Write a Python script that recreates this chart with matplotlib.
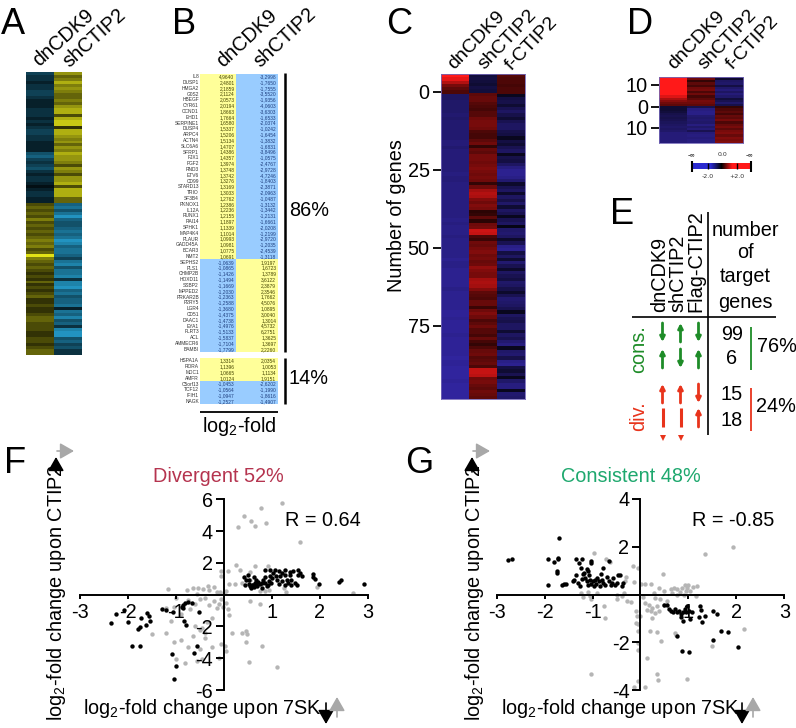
import matplotlib
matplotlib.use('Agg')
import matplotlib.pyplot as plt, numpy as np
from matplotlib.colors import LinearSegmentedColormap

plt.rcParams['font.family'] = ['Liberation Sans', 'DejaVu Sans']
plt.rcParams['mathtext.fontset'] = 'custom'
plt.rcParams['mathtext.rm'] = 'Liberation Sans'
plt.rcParams['mathtext.default'] = 'regular'

W, H = 796, 728
FS = 14.3

# panel A, two columns, row brightness (-10 teal .. 10 yellow)
a_left = [-4,-3,-3,-2,-3,-3,-4,-4,-3,-2,-2,-2,-3,-3,-3,-2,-3,-2,-3,-4,-4,-3,-3,-2,-2,-2,-2,-5,-6,-4,-3,-4,-5,-3,-2,-3,-3,-2,-1,-2,-3,-3,-2,-2,
          3,4,3,4,3,5,3,4,3,4,3,4,5,4,5,3,4,9,5,4,3,4,3,2,3,2,4,2,3,2,3,4,2,2,3,2,2,3,4,4,3,3,3,2,2,3,3,2,3,4,4]
a_right = [6,4,5,7,5,6,5,4,4,5,4,6,7,7,3,7,8,8,2,7,7,6,5,6,4,6,5,7,6,6,5,3,6,5,3,6,6,7,3,7,7,7,4,4,
           -6,-7,-5,-7,-9,-6,-5,-5,-6,-7,-6,-7,-9,-8,-6,-7,-7,-6,-4,-7,-8,-5,-7,-7,-8,-3,-8,-8,-9,-6,-7,-5,-6,-6,-7,-2,-7,-6,-8,-5,-6,-3,-8,-9,-9,-5,-6,-4,-5,-3,-3]

# panel B, gene table
genes = ['IL8','DUSP1','HMGA2','G0S2','HBEGF','CYR61','CCND1','EHD1','SERPINE1','DUSP4','ARPC4','ACTN4','SLC6A6','SFRP1','FJX1','FGF2',
         'RND3','ETV6','CD99','STARD13','TRIO','SF3B4','PKNOX1','IL12A','RUNX1','RAI14','SPHK1','MAP4K4','PLAUR','GADD45A','BCAR3','NMT2',
         'SEPHS2','PLS1','CHMP2B','HOXD11','SSBP2','MPPED2','PRKAR2B','P2RY5','LGR4','CD51','DAAC1','EYA1','FLRT3','ACL','AMMECR6','BAMBI',
         'HSPA1A','RORA','MDC1','AMFR','C5orf13','TCF12','IFIH1','NAGK']
b_dn = [4.9640,2.4801,2.1859,2.1124,2.0573,2.0194,1.8663,1.7664,1.6580,1.5337,1.5206,1.5134,1.4707,1.4386,1.4357,1.3974,
        1.3748,1.3742,1.3276,1.3169,1.3033,1.2762,1.2386,1.2236,1.2155,1.1897,1.1339,1.1014,1.0993,1.0981,1.0775,1.0691,
        -1.0639,-1.0865,-1.1426,-1.1494,-1.1669,-1.2030,-1.2363,-1.2588,-1.3680,-1.4375,-1.4738,-1.4976,-1.5133,-1.5837,-1.7104,-1.7799,
        1.3314,1.1396,1.0665,1.0124,-1.0453,-1.0564,-1.0947,-1.2527]
b_sh = [-3.2998,-1.7650,-1.7555,-3.5520,-1.9356,-4.0603,-3.6303,-1.6533,-2.0374,-1.0242,-1.6454,-1.3832,-1.6831,-3.8496,-1.0575,-2.4767,
        -2.9728,-4.7246,-1.8403,-2.3871,-2.0963,-1.0487,-1.3132,-1.3442,-1.2131,-1.6661,-2.0208,-1.2199,-2.9720,-1.2035,-2.4539,-1.3118,
        1.9197,1.6723,1.3789,3.6122,2.3879,2.3546,1.7662,4.5076,1.0895,3.0040,1.3014,4.5732,6.2751,1.3625,1.3697,2.2260,
        2.0354,1.0053,1.1134,1.9151,-2.6202,-1.1990,-1.8616,-1.4907]
b_rows = list(range(48)) + list(range(49, 57))

# panel C, 6 + 99 rows, log2 values in tenths
c_dn = [30,27,21,14,11,9,
        -13,-13,-14,-14,-14,-14,-15,-14,-15,-15,-15,-15,-15,-15,-16,-16,-15,-16,-16,-16,-16,-16,-16,-16,-17,-16,-16,-17,-17,-17,-17,-17,-17,-17,
        -17,-17,-17,-17,-18,-17,-18,-18,-18,-17,-18,-18,-18,-18,-18,-18,-19,-18,-18,-19,-19,-19,-19,-19,-19,-18,-19,-19,-19,-19,-19,-19,-20,-20,
        -19,-20,-20,-20,-20,-19,-20,-20,-20,-20,-20,-20,-21,-20,-20,-21,-21,-21,-21,-20,-21,-21,-21,-21,-21]
c_sh = [-8,-9,-8,-7,-9,-8,
        11,12,12,10,9,8,10,10,13,14,
        14,13,9,8,8,11,13,6,12,11,
        14,14,13,14,15,14,13,14,13,6,
        13,19,21,20,15,13,15,14,5,6,
        11,5,13,14,24,23,9,7,13,12,
        14,15,13,14,12,13,17,15,14,14,
        19,20,19,15,11,10,9,12,12,7,
        13,15,13,9,11,13,10,10,8,12,
        8,6,9,12,13,10,11,12,9,23,
        23,22,13,14,12,11,13,12,11]
c_f = [10,9,9,8,9,9,
       -4,-9,-10,-7,-11,-13,-10,-7,-11,-13,-13,-10,-9,-4,-9,-7,-11,-13,-4,-10,-9,-13,-17,-19,-19,-18,-15,-6,-11,-13,-6,-13,-10,-14,-7,-13,-11,-4,-11,-13,-3,-14,-15,-13,-6,-11,-18,-19,-9,
       -13,-7,-15,-11,-6,-13,-11,-9,-14,-13,-10,-6,-11,-15,-14,-13,-11,-4,-13,-11,-10,-13,-13,-7,-13,-11,-15,-17,-4,-14,-15,-10,-18,-19,-9,-7,-11,-4,-14,-17,-17,-4,-15,-14]
c_ticks = [0, 25, 50, 75]

# panel D, 14 + 17 rows
d_dn = [30,30,30,30,30,30,30,30,30,26,20,16,13,11,
        -7,-7,-8,-10,-11,-10,-11,-12,-13,-14,-13,-14,-16,-16,-16,-16,-16]
d_sh = [11,13,6,11,8,13,14,9,13,8,11,14,13,11,
        -10,-17,-18,-18,-15,-14,-15,-14,-17,-14,-16,-11,-16,-17,-16,-17,-17]
d_f = [-11,-6,-13,-14,-9,-14,-16,-13,-16,-14,-8,-11,-14,-10,
       6,9,11,8,12,11,14,9,12,14,11,14,15,12,15,14,15]
d_ticks = [-10, 0, 9.5]
d_ticklabels = ['10', '0', '10']
cbar_vals = [-2,-2,-2,-2,-1,0,1,2,2,2,2]

# panel E
e_counts = ['99', '6', '15', '18']

# panel F
f_black = [(-2.35,-1.8),(-2.25,-1.2),(-2.09,-0.95),(-2.0,-1.75),(-1.92,-3.2),(-1.75,-3.2),(-1.8,-2.15),(-1.75,-2.05),(-1.72,-1.45),(-1.63,-1.9),
           (-1.6,-1.15),(-1.57,-1.35),(-1.55,-1.65),(-1.3,-0.9),(-1.2,-0.95),(-1.07,-1.1),(-1.09,-3.75),(-0.99,-4.5),(-1.04,-5.3),
           (-0.88,-0.75),(-0.85,-0.63),(-0.81,-0.52),(-0.74,-0.46),(-0.67,-0.52),(-0.85,-0.84),(-0.51,-1.1),(-0.84,-1.63),(-0.78,-1.93),(-0.57,-3.2),(-0.63,-3.7),
           (0.42,1.09),(0.51,1.22),(0.53,0.94),(0.44,0.63),(0.53,0.67),(0.56,0.42),(0.61,0.59),(0.65,0.73),(0.68,0.94),(0.63,1.09),(0.70,0.52),(0.75,0.69),
           (0.79,0.42),(0.86,0.73),(0.90,0.52),(0.95,0.84),(0.86,1.11),(0.86,1.57),(0.96,1.15),(1.03,1.36),(1.07,1.53),(1.14,1.47),(1.21,1.36),(1.27,1.57),
           (1.38,1.42),(1.45,1.5),(1.55,1.53),(1.59,1.36),(1.64,1.19),(1.54,1.26),(1.38,1.26),(1.27,1.26),(1.17,1.15),(1.10,0.94),(1.14,0.69),(1.21,0.84),
           (1.27,0.63),(1.34,0.73),(1.41,0.63),(1.48,0.73),(1.52,0.63),(1.31,0.94),(1.41,0.94),(0.99,0.73),(0.92,0.63),(0.68,0.67),(0.58,0.59),(0.47,0.94),
           (0.54,0.52),(0.79,0.73),(0.96,1.53),(0.62,0.5),(0.72,0.8),(0.82,0.95),(1.0,1.05),(1.08,1.2),
           (1.85,1.3),(1.85,1.1),(1.9,1.0),(1.98,0.7),(2.4,0.8),(2.45,0.9),(2.92,0.65)]
f_grey = [(1.22,5.75),(0.77,5.43),(0.42,4.95),(0.56,4.65),(0.88,4.5),(0.66,4.3),(0.29,4.28),(1.59,3.3),(0.25,1.85),(0.65,1.78),(0.93,1.78),
          (-0.06,1.47),(-0.05,1.15),(0.09,1.47),(0.33,1.53),(0.23,0.67),(0.37,0.73),(-1.16,0.35),(-0.76,0.27),(-0.64,0.42),(-0.54,0.42),(-0.43,0.35),
          (-0.33,0.57),(-0.3,0.3),(-0.15,0.15),(-0.08,0.15),(0.0,0.1),(-0.05,-0.3),(-0.1,-0.6),(-0.15,-0.85),(-0.02,-0.75),(0.08,-0.9),(0.1,-1.25),(0.05,-0.55),
          (-0.2,-0.4),(-0.3,-0.65),(-0.4,-0.2),(-0.5,-0.25),(-0.55,0.05),(-0.6,-0.6),(-0.7,-0.9),(-0.75,-0.35),(-1.0,-0.2),(-1.05,-0.75),(-1.2,-0.85),
          (-1.1,-1.65),(-0.9,-1.2),(-0.45,-2.1),(-0.4,-2.4),(-0.35,-1.7),(-0.25,-1.5),(-0.4,-2.7),(-0.5,-2.2),(-0.6,-2.0),(-0.65,-2.6),(-0.05,-3.1),(0.02,-3.2),
          (0.05,-3.55),(0.18,-2.4),(0.38,-2.4),(0.47,-2.3),(0.49,-2.5),(0.8,-3.25),(0.47,-2.95),(0.52,-4.25),(1.1,-4.55),(0.55,-0.4),(0.75,-0.6),(-1.5,-2.5),
          (-1.2,-2.4),(-1.05,-2.95),(-0.9,-2.85),(-0.75,-3.3),(-0.5,-3.4),(-0.55,-4.2),(-0.45,-4.05),(-0.25,-3.3),(-0.1,-4.0),(-0.8,-4.3),(-1.0,-4.05),
          (1.95,0.5),(2.7,0.1),(0.75,0.2),(0.85,0.25),(1.3,0.15),(0.1,0.7),(0.55,0.9),(-0.2,0.5),(1.25,0.4),(0.95,0.3),(0.55,1.4),(0.05,0.25)]

# panel G
g_black = [(-2.77,1.45),(-2.69,1.5),(-1.69,2.35),(-1.93,1.47),(-1.81,1.37),(-1.73,1.54),(-1.72,1.48),(-1.74,0.98),(-1.74,0.88),(-1.92,0.38),(-1.6,0.45),
           (-1.63,0.39),(-1.55,0.42),(-1.34,1.5),(-1.22,1.5),(-1.29,1.33),(-1.04,1.4),(-1.03,1.3),(-0.65,1.4),(-0.79,1.13),(-1.11,1.08),(-1.25,1.12),(-1.1,0.98),
           (-1.4,0.55),(-1.38,0.6),(-1.35,0.8),(-1.3,0.5),(-1.27,0.35),(-1.22,0.65),(-1.2,0.85),(-1.18,0.9),(-1.15,0.7),(-1.12,0.55),(-1.1,0.4),(-1.07,0.8),(-1.05,0.62),
           (-1.03,0.45),(-1.0,0.55),(-0.98,0.35),(-0.95,0.6),(-0.93,0.45),(-0.9,0.7),(-0.87,0.55),(-0.85,0.35),(-0.82,0.85),(-0.8,0.62),(-0.78,0.5),(-0.75,0.4),
           (-0.7,0.72),(-0.66,0.55),(-0.62,0.38),(-0.6,0.5),(-0.57,0.7),(-0.53,0.4),(-0.5,0.5),(-0.47,0.8),(-0.42,0.82),(-0.38,0.35),(-0.37,0.48),
           (0.5,-0.42),(0.56,-0.45),(0.6,-0.62),(0.63,-0.7),(0.68,-0.72),(0.72,-0.6),(0.76,-0.75),(0.8,-0.7),(0.84,-0.82),(0.88,-0.72),(0.92,-0.62),(0.95,-0.75),
           (0.98,-0.5),(1.02,-0.7),(1.08,-0.72),(1.25,-0.5),(1.27,-0.65),(1.22,-0.95),(1.34,-0.9),(1.29,-1.15),(0.88,-1.12),(1.04,-1.03),(0.85,-0.95),
           (0.77,-1.75),(0.86,-2.36),(1.02,-2.42),(1.52,-1.91),(2.03,-2.2),(1.68,-1.52),(1.82,-1.55),(1.51,-0.71),(1.59,-0.8)]
g_grey = [(1.93,2.0),(1.34,1.68),(-0.15,1.19),(-0.06,1.12),(0.46,0.85),(-0.31,0.74),(-0.33,0.56),(-0.14,0.52),(0.01,0.46),(0.1,0.46),(0.21,0.42),(-0.71,1.49),
          (-0.64,1.35),(-0.97,1.75),(-1.25,0.07),(-1.1,0.1),(-1.04,-0.2),(-0.77,-0.49),(-0.75,-0.98),(-0.49,-0.18),(-0.38,-0.07),(-0.28,-0.28),(-0.1,-0.7),
          (-0.08,-0.91),(-0.1,-1.19),(-0.06,-1.22),(-0.06,-1.54),(-0.06,-2.03),(-0.06,-2.33),(0.13,-2.65),(-1.03,-3.31),(0.35,-3.32),(0.36,-3.59),(0.96,-3.56),
          (0.1,-3.88),(-0.06,-3.63),(-0.14,-3.88),(0.19,-1.51),(0.35,-1.58),(0.42,-1.96),(0.73,-1.63),(1.5,-2.16),(2.16,-1.44),(0.28,0.07),(0.38,0.28),(0.48,0.14),
          (0.63,0.21),(0.7,0.28),(0.77,0.21),(0.87,0.28),(0.92,0.39),(0.97,0.28),(1.04,0.14),(1.18,0.35),(1.15,-0.07),(0.66,0.07),(0.77,0.0),(0.9,0.0),(0.1,-0.35),
          (0.17,-0.42),(0.24,-0.56),(0.35,-0.49),(0.31,-0.77),(0.14,-0.63),(0.21,-0.7),(0.38,-0.7),(0.49,-0.42),(0.56,-0.28),(0.4,-0.2),(0.3,-0.15),(0.05,-0.1),
          (-0.35,0.05),(-0.5,0.0),(-1.2,-0.1),(-1.05,-0.05),(-0.9,0.05),(0.75,-1.7),(0.99,0.4),(0.82,0.1),(0.95,0.15),(1.1,0.3),(-0.2,-0.3),(0.0,-0.9),(0.25,-1.0)]
xticks = [-3, -2, -1, 1, 2, 3]

fig = plt.figure(figsize=(W / 100, H / 100), dpi=100)

def px_axes(x0, y0, x1, y1, **kw):
    return fig.add_axes([x0 / W, 1 - y1 / H, (x1 - x0) / W, (y1 - y0) / H], **kw)

# overlay in pixel coords for labels and annotation
bg = px_axes(0, 0, W, H)
bg.set_xlim(0, W)
bg.set_ylim(H, 0)
bg.axis('off')
bg.set_zorder(5)

def txt(x, y, s, size=FS, color='black', ha='center', va='center', rot=0, **kw):
    bg.text(x, y, s, fontsize=size, color=color, ha=ha, va=va, rotation=rot, rotation_mode='anchor', **kw)

def line(x0, y0, x1, y1, color='black', lw=1.5):
    bg.plot([x0, x1], [y0, y1], color=color, lw=lw, solid_capstyle='butt')

def arrow(x0, y0, x1, y1, color, lw=2.0, ms=7, style='-|>'):
    bg.annotate('', xy=(x1, y1), xytext=(x0, y0),
                arrowprops=dict(arrowstyle=style, color=color, lw=lw, mutation_scale=ms, shrinkA=0, shrinkB=0))

for s, x, y in [('A', 1, 34), ('B', 172, 34), ('C', 386, 34), ('D', 627, 34), ('E', 610, 224), ('F', 4, 473), ('G', 405, 473)]:
    txt(x, y, s, size=26, ha='left', va='baseline')

# A
cm_a = LinearSegmentedColormap.from_list('a', ['#26a3d4', '#000000', '#fafa19'])
ax = px_axes(26, 72, 82, 355)
ax.imshow(np.array(a_left)[:, None], cmap=cm_a, vmin=-10, vmax=10, aspect='auto', extent=(0, 1, 0, 1), interpolation='nearest')
ax.imshow(np.array(a_right)[:, None], cmap=cm_a, vmin=-10, vmax=10, aspect='auto', extent=(1, 2, 0, 1), interpolation='nearest')
ax.set_xlim(0, 2)
ax.set_ylim(0, 1)
ax.axis('off')
txt(39, 67, 'dnCDK9', ha='left', va='baseline', rot=42)
txt(69, 68, 'shCTIP2', ha='left', va='baseline', rot=42)

# B
ax = px_axes(200, 73.8, 278, 404.4)
sign_c = lambda v: '#ffff99' if v > 0 else '#99ccff'
ax.barh(b_rows, [1] * 56, left=0, height=1, color=[sign_c(v) for v in b_dn])
ax.barh(b_rows, [1.15] * 56, left=1, height=1, color=[sign_c(v) for v in b_sh])
ax.set_xlim(0, 2.15)
ax.set_ylim(56.5, -0.5)
ax.axis('off')
for r, g, a, b in zip(b_rows, genes, b_dn, b_sh):
    ax.text(-0.03, r, g, fontsize=3.5, color='#333333', ha='right', va='center', clip_on=False)
    ax.text(0.95, r, ('%.4f' % a).replace('.', ','), fontsize=3.5, color='#444400' if a > 0 else '#1f3f7f', ha='right', va='center')
    ax.text(2.1, r, ('%.4f' % b).replace('.', ','), fontsize=3.5, color='#444400' if b > 0 else '#1f3f7f', ha='right', va='center')
txt(223, 68, 'dnCDK9', ha='left', va='baseline', rot=43)
txt(260, 68, 'shCTIP2', ha='left', va='baseline', rot=43)
line(285, 73, 285, 352, lw=1.8)
line(285, 358, 285, 404, lw=1.8)
line(200, 412, 278, 412, lw=1.3)
txt(289, 210, '86%', ha='left')
txt(289, 378, '14%', ha='left')
txt(239, 426, r'log$_2$-fold')

# C
cm_rb = LinearSegmentedColormap.from_list('rb', ['#4534e0', '#000000', '#ff1919'])
ax = px_axes(440.7, 74, 524.7, 399)
for i, col in enumerate([c_dn, c_sh, c_f]):
    ax.imshow(np.array(col)[:, None], cmap=cm_rb, vmin=-30, vmax=30, aspect='auto',
              extent=(i, i + 1, 98.5, -5.67), interpolation='nearest')
ax.set_xlim(0, 3)
ax.set_ylim(98.5, -5.67)
ax.set_xticks([])
ax.set_yticks(c_ticks)
ax.tick_params(axis='y', length=6, width=1.3, labelsize=FS, pad=2)
for sp in ax.spines.values():
    sp.set_color('#7468b8')
    sp.set_linewidth(0.6)
txt(397, 216, 'Number of genes', rot=90)
txt(454, 70, 'dnCDK9', size=14, ha='left', va='baseline', rot=46)
txt(484, 70, 'shCTIP2', size=14, ha='left', va='baseline', rot=46)
txt(512, 71, 'f-CTIP2', size=14, ha='left', va='baseline', rot=46)

# D
ax = px_axes(659, 76.7, 743.3, 143.3)
for i, col in enumerate([d_dn, d_sh, d_f]):
    ax.imshow(np.array(col)[:, None], cmap=cm_rb, vmin=-30, vmax=30, aspect='auto',
              extent=(i, i + 1, 16.6, -13.6), interpolation='nearest')
ax.set_xlim(0, 3)
ax.set_ylim(16.6, -13.6)
ax.set_xticks([])
ax.set_yticks(d_ticks)
ax.set_yticklabels(d_ticklabels)
ax.tick_params(axis='y', length=6, width=1.3, labelsize=FS, pad=2)
for sp in ax.spines.values():
    sp.set_color('#7468b8')
    sp.set_linewidth(0.6)
txt(674, 70, 'dnCDK9', size=14, ha='left', va='baseline', rot=46)
txt(704, 70, 'shCTIP2', size=14, ha='left', va='baseline', rot=46)
txt(733, 70, 'f-CTIP2', size=14, ha='left', va='baseline', rot=46)

ax = px_axes(692, 163, 750.7, 169)
ax.imshow(np.array(cbar_vals)[None, :], cmap=LinearSegmentedColormap.from_list('cb', ['#2b2bd0', '#000000', '#ff1919']),
          vmin=-2, vmax=2, aspect='auto', extent=(0, 1, 0, 1), interpolation='bilinear')
ax.axis('off')
for x in [692, 750.7]:
    line(x, 161, x, 172, lw=1.5)
for x in [708, 737]:
    line(x, 163, x, 169, lw=1)
for x, s in [(692, '-∞'), (722, '0.0'), (750, '-∞')]:
    txt(x, 155, s, size=4.5, color='#333333', fontweight='bold' if s != '0.0' else 'normal', family=['DejaVu Sans'])
for x, s in [(708, '-2.0'), (737, '+2.0')]:
    txt(x, 176, s, size=4.5, color='#333333', family=['DejaVu Sans'])

# E
line(707.7, 212, 707.7, 435, lw=1.2)
line(632, 316.7, 775.7, 316.7, lw=1.2)
for x, s in [(660, 'dnCDK9'), (678, 'shCTIP2'), (696, 'Flag-CTIP2')]:
    txt(x, 312, s, ha='left', rot=90)
for y, s in [(230, 'number'), (253, 'of'), (277, 'target'), (303, 'genes')]:
    txt(745, y, s)
green = '#1e8c28'
red = '#e8341c'
txt(639, 349, 'cons.', color=green, rot=90)
txt(639, 416, 'div.', color=red, rot=90)
cols = [662.5, 680.5, 698.5]
for x, up in zip(cols, [False, True, False]):
    arrow(x, 342 if up else 323, x, 323 if up else 342, green)
for x, up in zip(cols, [True, False, True]):
    arrow(x, 368 if up else 349, x, 349 if up else 368, green)
for x, up in zip(cols, [True, True, False]):
    arrow(x, 403 if up else 384, x, 384 if up else 403, red)
arrow(cols[2], 427, cols[2], 408, red)
for x in cols[:2]:
    line(x, 408, x, 427, color=red, lw=2.2)
    bg.plot([x], [438], marker='v', ms=5, color=red, mew=0)
for y, s in zip([335, 358, 394, 420], e_counts):
    txt(732, y, s)
line(751, 327, 751, 370, color=green, lw=1.3)
line(751, 388, 751, 431, color=red, lw=1.3)
txt(757, 347, '76%', ha='left')
txt(756, 407, '24%', ha='left')

# F, G scatter
def scatter_panel(x0, x1, y0, y1, ymax, yticks, black, grey):
    a = px_axes(x0, y0, x1, y1)
    a.patch.set_alpha(0)
    gx, gy = zip(*grey)
    bx, by = zip(*black)
    a.scatter(gx, gy, s=10, color='#b5b5b5', lw=0, clip_on=False)
    a.scatter(bx, by, s=10, color='black', lw=0, clip_on=False, zorder=3)
    a.set_xlim(-3, 3)
    a.set_ylim(-ymax, ymax)
    a.spines['top'].set_visible(False)
    a.spines['right'].set_visible(False)
    a.spines['left'].set_position(('data', 0))
    a.spines['bottom'].set_position(('data', 0))
    a.spines['left'].set_linewidth(1.4)
    a.spines['bottom'].set_linewidth(1.4)
    a.set_xticks(xticks)
    a.set_yticks(yticks)
    a.tick_params(axis='x', length=3, width=1.4, labelsize=FS, pad=3)
    a.tick_params(axis='y', length=6, width=1.4, labelsize=FS, pad=2)
    a.set_xticklabels([str(v) for v in xticks])
    a.set_yticklabels([str(v) for v in yticks])
    return a

scatter_panel(80, 367.7, 499.3, 690, 6, [-6, -4, -2, 2, 4, 6], f_black, f_grey)
scatter_panel(496.7, 784.3, 499, 690, 4, [-4, -2, 2, 4], g_black, g_grey)

txt(218, 477, 'Divergent 52%', color='#b5344f')
txt(630.7, 477, 'Consistent 48%', color='#1ea86e')
txt(285, 520, 'R = 0.64', ha='left')
txt(691.7, 520, 'R = -0.85', ha='left')
txt(57, 593, r'log$_2$-fold change upon CTIP2', rot=90)
txt(474, 593, r'log$_2$-fold change upon CTIP2', rot=90)
txt(83, 714, r'log$_2$-fold change upon 7SK', ha='left', va='baseline')
txt(501, 714, r'log$_2$-fold change upon 7SK', ha='left', va='baseline')

big = '-|>,head_width=0.4,head_length=0.7'
for dx in [0, 416]:
    arrow(57 + dx, 451, 74 + dx, 451, '#a8a8a8', lw=1.2, ms=12, style=big)
    arrow(56 + dx, 472, 56 + dx, 457, 'black', lw=1.2, ms=12, style=big)
    arrow(326 + dx, 703, 326 + dx, 724, 'black', lw=1.2, ms=12, style=big)
    arrow(337 + dx, 717, 337 + dx, 697, '#a8a8a8', lw=1.2, ms=12, style=big)

fig.savefig('out.png', dpi=100)
